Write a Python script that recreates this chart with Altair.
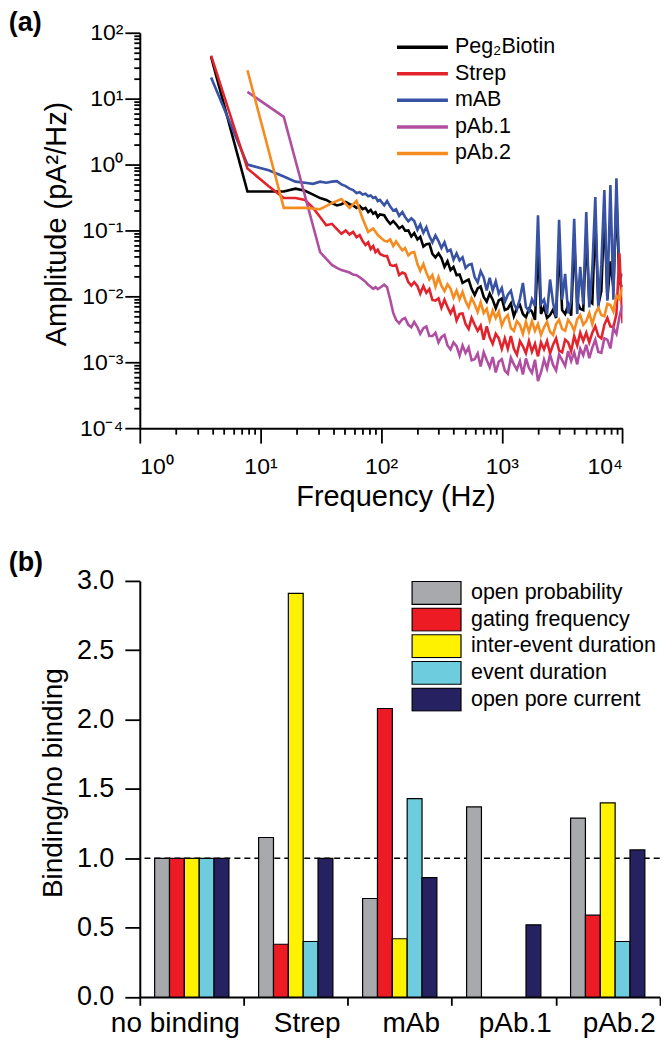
import altair as alt
import pandas as pd

FONT = "Liberation Sans"

# ---------------- Panel (a): noise power spectra ----------------
FREQ_LOW = [3.9, 7.8, 11.7, 15.6, 19.5, 23.4, 27.3, 31.2, 35.1, 39.1, 43.0, 46.9, 50.8,
            54.7, 58.6, 62.5, 66.4, 70.3, 74.2, 78.1, 82.0, 85.9, 89.8, 93.8, 97.7]
FREQ_HIGH = [106, 112, 119, 126, 133, 141, 150, 158, 168, 178, 188, 200, 211, 224, 237, 251,
             266, 282, 299, 316, 335, 355, 376, 398, 422, 447, 473, 501, 531, 562, 596, 631,
             668, 708, 750, 794, 841, 891, 944, 1000, 1059, 1122, 1189, 1259, 1334, 1413,
             1496, 1585, 1679, 1778, 1884, 1995, 2113, 2239, 2371, 2512, 2661, 2818, 2985,
             3162, 3350, 3548, 3758, 3981, 4217, 4467, 4732, 5012, 5309, 5623, 5957, 6310,
             6683, 7079, 7499, 7943, 8414, 8913, 9441, 10000]

PEG_LOW = [43, 0.39, 0.39, 0.39, 0.43, 0.40, 0.35, 0.31, 0.29, 0.26, 0.24, 0.25, 0.27,
           0.25, 0.24, 0.22, 0.235, 0.21, 0.22, 0.19, 0.205, 0.18, 0.19, 0.16, 0.175]
PEG_HIGH = [0.17, 0.144, 0.126, 0.139, 0.124, 0.108, 0.116, 0.099, 0.10, 0.081,
            0.091, 0.073, 0.08, 0.057, 0.062, 0.063, 0.044, 0.039, 0.045, 0.038,
            0.028, 0.034, 0.025, 0.028, 0.021, 0.0215, 0.016, 0.017, 0.018, 0.013,
            0.0105, 0.0132, 0.0141, 0.0098, 0.0083, 0.011, 0.0089, 0.0066, 0.0087, 0.0093,
            0.0062, 0.0065, 0.0078, 0.005, 0.0066, 0.0074, 0.0054, 0.0048, 0.0065, 0.0059,
            0.0044, 0.054, 0.0054, 0.0069, 0.0047, 0.0052, 0.0063, 0.0047, 0.06, 0.0062,
            0.0054, 0.0074, 0.0051, 0.07, 0.0083, 0.0065, 0.0062, 0.09, 0.0085, 0.0078,
            0.15, 0.0074, 0.012, 0.2, 0.0091, 0.034, 0.0135, 0.3, 0.0162, 0.0138]

STREP_LOW = [45, 0.87, 0.47, 0.31, 0.31, 0.29, 0.22, 0.16, 0.12, 0.126, 0.105, 0.089, 0.10,
             0.087, 0.095, 0.079, 0.085, 0.069, 0.06, 0.066, 0.052, 0.058, 0.047, 0.051, 0.044]
STREP_HIGH = [0.041, 0.041, 0.030, 0.029, 0.030, 0.021, 0.023, 0.022, 0.0164, 0.0145,
              0.0165, 0.0143, 0.011, 0.0143, 0.0113, 0.0129, 0.0088, 0.0086, 0.0093, 0.0067,
              0.0089, 0.0069, 0.0055, 0.0068, 0.0043, 0.0054, 0.0055, 0.0038, 0.0032, 0.0047,
              0.0037, 0.0030, 0.0036, 0.0022, 0.0035, 0.0024, 0.0019, 0.0027, 0.0023, 0.0016,
              0.0023, 0.0016, 0.0025, 0.0016, 0.0013, 0.0021, 0.00175, 0.00137, 0.0021, 0.00145,
              0.0019, 0.00123, 0.002, 0.00157, 0.0021, 0.00136, 0.00185, 0.0023, 0.0015, 0.00142,
              0.0022, 0.002, 0.00148, 0.0025, 0.0018, 0.0028, 0.0021, 0.0028, 0.002, 0.0028,
              0.0035, 0.0025, 0.0023, 0.0037, 0.0047, 0.0035, 0.0034, 0.0054, 0.045, 0.0039]

MAB_LOW = [21, 1.0, 0.82, 0.66, 0.55, 0.53, 0.51, 0.55, 0.53, 0.55, 0.56, 0.50, 0.47,
           0.43, 0.41, 0.37, 0.38, 0.35, 0.36, 0.33, 0.34, 0.31, 0.32, 0.28, 0.29]
MAB_HIGH = [0.24, 0.28, 0.23, 0.20, 0.21, 0.166, 0.19, 0.16, 0.138, 0.153,
            0.139, 0.102, 0.123, 0.092, 0.112, 0.082, 0.066, 0.084, 0.069, 0.054,
            0.066, 0.048, 0.051, 0.036, 0.045, 0.035, 0.039, 0.027, 0.030, 0.031,
            0.0196, 0.0163, 0.024, 0.0193, 0.0123, 0.0192, 0.0122, 0.0169, 0.011, 0.0134,
            0.0082, 0.0106, 0.0122, 0.0077, 0.0063, 0.0092, 0.016, 0.0069, 0.006, 0.009,
            0.0071, 0.17, 0.0077, 0.0089, 0.0054, 0.018, 0.008, 0.0049, 0.145, 0.0089,
            0.022, 0.0055, 0.0085, 0.15, 0.0054, 0.028, 0.0075, 0.19, 0.0068, 0.026,
            0.32, 0.0068, 0.03, 0.41, 0.0086, 0.49, 0.0089, 0.62, 0.018, 0.022]

PAB1_LOW = [None, 12.7, None, 5.3, None, None, None, 0.047, 0.037, 0.030, 0.027, 0.025, 0.024,
            0.023, 0.0214, 0.021, 0.0195, 0.018, 0.0166, 0.015, 0.014, 0.013, 0.0138, 0.0129, 0.0135]
PAB1_HIGH = [0.015, 0.0138, 0.0089, 0.0056, 0.0044, 0.0039, 0.0045, 0.0047, 0.0037, 0.0034,
             0.0041, 0.0034, 0.0027, 0.0033, 0.0035, 0.0025, 0.0025, 0.0028, 0.0020, 0.0024,
             0.0026, 0.0018, 0.00157, 0.0020, 0.00176, 0.00126, 0.0018, 0.00138, 0.00168, 0.00107,
             0.00111, 0.00136, 0.00086, 0.00142, 0.00108, 0.00084, 0.0012, 0.0007, 0.00102, 0.00111,
             0.00075, 0.00067, 0.00117, 0.00093, 0.00077, 0.00104, 0.00065, 0.00114, 0.00082, 0.00069,
             0.00109, 0.00052, 0.0007, 0.00109, 0.0008, 0.00131, 0.00091, 0.00075, 0.00131, 0.00108,
             0.00088, 0.00148, 0.00104, 0.00141, 0.00093, 0.00161, 0.00128, 0.00184, 0.00115, 0.00166,
             0.0022, 0.00143, 0.00139, 0.0023, 0.0022, 0.00162, 0.0033, 0.0027, 0.0049, 0.0075]

PAB2_LOW = [None, 27, None, 0.22, None, 0.22, None, 0.21, None, 0.26, None, 0.30, None,
            0.22, None, 0.28, None, 0.15, None, 0.095, None, 0.107, None, 0.085, None]
PAB2_HIGH = [0.070, 0.068, 0.073, 0.058, 0.068, 0.058, 0.050, 0.054, 0.042, 0.046,
             0.047, 0.031, 0.0245, 0.031, 0.023, 0.018, 0.021, 0.014, 0.0195, 0.0145,
             0.012, 0.0152, 0.0131, 0.0095, 0.0122, 0.009, 0.0117, 0.0084, 0.0068, 0.0094,
             0.0076, 0.0058, 0.0081, 0.0056, 0.0065, 0.0043, 0.0061, 0.0047, 0.0059, 0.0036,
             0.0046, 0.0052, 0.0033, 0.0030, 0.0042, 0.0037, 0.0027, 0.0041, 0.0029, 0.0042,
             0.0030, 0.0038, 0.0026, 0.0034, 0.0041, 0.0029, 0.0026, 0.0038, 0.0044, 0.0032,
             0.0030, 0.0044, 0.0038, 0.0030, 0.0045, 0.0052, 0.0037, 0.0042, 0.0056, 0.0038,
             0.0055, 0.0067, 0.0052, 0.005, 0.0077, 0.0074, 0.0059, 0.0102, 0.0091, 0.0138]

SERIES = ["Peg\u2082Biotin", "Strep", "mAB", "pAb.1", "pAb.2"]
SERIES_COLORS = ["#000000", "#E3232C", "#3953A4", "#B04FA2", "#F68B1F"]
SERIES_VALUES = [(PEG_LOW, PEG_HIGH), (STREP_LOW, STREP_HIGH), (MAB_LOW, MAB_HIGH),
                 (PAB1_LOW, PAB1_HIGH), (PAB2_LOW, PAB2_HIGH)]

rows = []
for name, (lo, hi) in zip(SERIES, SERIES_VALUES):
    for f, v in zip(FREQ_LOW + FREQ_HIGH, lo + hi):
        if v is not None:
            rows.append({"series": name, "freq": f, "amp": v})
spec_df = pd.DataFrame(rows)

X_TICKS = [m * 10 ** e for e in range(0, 4) for m in range(1, 10)] + [10000]
Y_TICKS = [m * 10.0 ** e for e in range(-4, 2) for m in range(1, 10)] + [100.0]
DEC = "abs(log(datum.value)/LN10 - round(log(datum.value)/LN10)) < 0.001"
X_LAB = "['10\u2070','10\u00b9','10\u00b2','10\u00b3','10\u2074']"
Y_LAB = "['10\u207b\u2074','10\u207b\u00b3','10\u207b\u00b2','10\u207b\u00b9','10\u2070','10\u00b9','10\u00b2']"

common_axis = dict(domainColor="black", domainWidth=2, tickColor="black", tickWidth=1.8,
                   labelColor="black", labelFont=FONT, titleFont=FONT, titleColor="black",
                   titleFontWeight="normal", grid=False, labelOverlap=False)

x_a = alt.X("freq:Q", scale=alt.Scale(type="log", domain=[1, 10000], nice=False),
            axis=alt.Axis(values=X_TICKS,
                          labelExpr=f"({DEC}) ? {X_LAB}[round(log(datum.value)/LN10)] : ''",
                          tickSize={"condition": {"test": DEC, "value": 15}, "value": 6},
                          labelFontSize=23, labelBaseline="alphabetic", labelPadding=30,
                          title="Frequency (Hz)", titleFontSize=29, titleX=256, titleY=77,
                          titleBaseline="alphabetic", titleAlign="center", **common_axis))
y_a = alt.Y("amp:Q", scale=alt.Scale(type="log", domain=[1e-4, 100], nice=False),
            axis=alt.Axis(values=Y_TICKS,
                          labelExpr=f"({DEC}) ? {Y_LAB}[round(log(datum.value)/LN10)+4] : ''",
                          tickSize={"condition": {"test": DEC, "value": 15}, "value": 6},
                          labelFontSize=23, labelPadding=2,
                          title="Amplitude (pA\u00b2/Hz)", titleFontSize=29, titleX=-83, titleY=191,
                          titleAngle=270, titleBaseline="middle", titleAlign="center", **common_axis))
color_a = alt.Color("series:N", scale=alt.Scale(domain=SERIES, range=SERIES_COLORS),
                    legend=alt.Legend(orient="none", legendX=255.6, legendY=4, title=None,
                                      symbolType="stroke", symbolSize=2601, symbolStrokeWidth=3.5,
                                      clipHeight=21, rowPadding=4.6, labelOffset=5,
                                      labelFont=FONT, labelFontSize=21.5, labelColor="black",
                                      labelLimit=0, padding=0))

draw_order = ["Peg\u2082Biotin", "mAB", "Strep", "pAb.1", "pAb.2"]
layers = []
for name in draw_order:
    layers.append(
        alt.Chart(spec_df).transform_filter(alt.datum.series == name)
        .mark_line(strokeWidth=2.6, clip=True)
        .encode(x=x_a, y=y_a, color=color_a)
    )
panel_a = alt.layer(*layers).properties(
    width=483.4, height=396,
    title=alt.TitleParams("(a)", anchor="start", frame="group", dx=-131.3, offset=-36,
                          fontSize=27, fontWeight="bold", font=FONT, color="black",
                          baseline="alphabetic"))

# ---------------- Panel (b): grouped bars ----------------
GROUPS = ["no binding", "Strep", "mAb", "pAb.1", "pAb.2"]
METRICS = ["open probability", "gating frequency", "inter-event duration",
           "event duration", "open pore current"]
METRIC_COLORS = ["#A7A9AC", "#ED1C24", "#FFF200", "#6DCCDD", "#262261"]
OPEN_PROB = [1.0, 1.15, 0.71, 1.37, 1.29]
GATING_FREQ = [1.0, 0.38, 2.08, None, 0.59]
INTER_EVENT = [1.0, 2.91, 0.42, None, 1.40]
EVENT_DUR = [1.0, 0.40, 1.43, None, 0.40]
OPEN_PORE = [1.0, 1.0, 0.86, 0.52, 1.06]
REFERENCE = [1.0]

brows = []
for metric, vals in zip(METRICS, [OPEN_PROB, GATING_FREQ, INTER_EVENT, EVENT_DUR, OPEN_PORE]):
    for g, v in zip(GROUPS, vals):
        if v is not None:
            brows.append({"group": g, "metric": metric, "value": v})
bar_df = pd.DataFrame(brows)

y_b_ticks = [i * 0.25 for i in range(13)]
y_b = alt.Y("value:Q", scale=alt.Scale(domain=[0, 3], nice=False, zero=True),
            axis=alt.Axis(values=y_b_ticks,
                          labelExpr="datum.value % 0.5 == 0 ? format(datum.value, '.1f') : ''",
                          tickSize={"condition": {"test": "datum.value % 0.5 == 0", "value": 15},
                                    "value": 7.7},
                          labelFontSize=27, labelPadding=11,
                          title="Binding/no binding", titleFontSize=28, titleX=-86.6, titleY=202,
                          titleAngle=270, titleBaseline="middle", titleAlign="center",
                          **common_axis))
x_b = alt.X("group:N", sort=GROUPS, scale=alt.Scale(paddingInner=0, paddingOuter=0),
            axis=alt.Axis(tickBand="extent", tickSize=8.3, labelAngle=0, labelFontSize=28,
                          labelBaseline="alphabetic", labelPadding=26.7,
                          labelOffset={"condition": {"test": "datum.value == 'no binding'",
                                                     "value": -17}, "value": 11},
                          title=None, **common_axis))

ref_rule = alt.Chart(pd.DataFrame({"ref": REFERENCE})).mark_rule(
    color="black", strokeDash=[6, 4], strokeWidth=1.5).encode(y=alt.Y("ref:Q"))

bars = alt.Chart(bar_df).mark_bar(stroke="black", strokeWidth=1.2, opacity=1).encode(
    x=x_b,
    xOffset=alt.XOffset("metric:N", sort=METRICS,
                        scale=alt.Scale(paddingInner=0, paddingOuter={"expr": "1.63"})),
    y=y_b,
    color=alt.Color("metric:N", sort=METRICS,
                    scale=alt.Scale(domain=METRICS, range=METRIC_COLORS),
                    legend=alt.Legend(orient="none", legendX=271.7, legendY=0, title=None,
                                      symbolType="M-1,-0.47L1,-0.47L1,0.47L-1,0.47Z",
                                      symbolSize=2401, symbolStrokeColor="black",
                                      symbolStrokeWidth=1.2, symbolOpacity=1,
                                      clipHeight=24, rowPadding=2.7, labelOffset=9,
                                      labelFont=FONT, labelFontSize=21.5, labelColor="black",
                                      labelLimit=0, padding=0)),
)

panel_b = alt.layer(ref_rule, bars).properties(
    width=520.7, height=416.7,
    title=alt.TitleParams("(b)", anchor="start", frame="group", dx=-131.3, offset=-31,
                          fontSize=27, fontWeight="bold", font=FONT, color="black",
                          baseline="alphabetic"))

chart = alt.vconcat(panel_a, panel_b, spacing=38).resolve_scale(
    color="independent"
).properties(
    padding={"left": 0, "top": 0, "right": 0, "bottom": 0}
).configure_view(stroke=None)

chart.save("out.html", embed_options={"renderer": "svg", "actions": False})
